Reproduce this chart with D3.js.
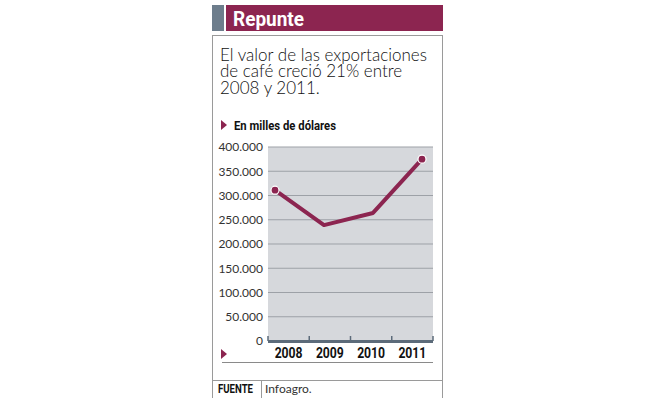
<!DOCTYPE html>
<html>
<head>
<meta charset="utf-8">
<script src="https://cdn.jsdelivr.net/npm/d3@7"></script>
<style>
  html, body { margin: 0; padding: 0; background: #fff; }
  svg { display: block; }
  .narrow { font-family: Roboto, "Liberation Sans", sans-serif; font-weight: bold; }
</style>
</head>
<body>
<svg id="chart" width="653" height="398"></svg>
<script>
const years = ["2008", "2009", "2010", "2011"]
const exportValues = [311000, 239000, 264000, 375000]
const yTicks = [0, 50000, 100000, 150000, 200000, 250000, 300000, 350000, 400000]
const subtitleLines = ["El valor de las exportaciones", "de café creció 21% entre", "2008 y 2011."]

const maroon = "#8c2550"
const light = "Lato, 'Open Sans', sans-serif"

const svg = d3.select("#chart")

// condensed look: squeeze bold text to the width seen in the print
const squeeze = (sel, w) => sel.attr("textLength", w).attr("lengthAdjust", "spacingAndGlyphs")

// header bar
svg.append("rect").attr("x", 212).attr("y", 5).attr("width", 12).attr("height", 26).attr("fill", "#6d7d8c")
svg.append("rect").attr("x", 226).attr("y", 5).attr("width", 217).attr("height", 26).attr("fill", maroon)
svg.append("text").text("Repunte").attr("class", "narrow")
    .attr("x", 233).attr("y", 25.5)
    .attr("fill", "#fff").attr("font-size", 20)
    .call(squeeze, 71)

// frame
svg.append("rect").attr("x", 212.5).attr("y", 35.5).attr("width", 230).attr("height", 370)
    .attr("fill", "none").attr("stroke", "#9a9a9a")

svg.append("g").selectAll("text").data(subtitleLines).join("text")
    .text(d => d)
    .attr("x", 220).attr("y", (d, i) => 60.5 + i * 16.5)
    .attr("fill", "#111").attr("font-family", light).attr("font-weight", 300).attr("font-size", 17)

const triangle = (x, y) => `M${x},${y - 5}L${x + 6},${y}L${x},${y + 5}Z`

svg.append("path").attr("d", triangle(221, 125)).attr("fill", maroon)
svg.append("text").text("En milles de dólares").attr("class", "narrow")
    .attr("x", 234).attr("y", 129.5)
    .attr("fill", "#111").attr("font-size", 13)
    .call(squeeze, 102)

// plot
const plotL = 268, plotR = 433, plotT = 147, plotB = 341

const y = d3.scaleLinear().domain([0, 400000]).range([plotB, plotT])
const band = d3.scaleBand().domain(years).range([plotL, plotR])
const x = d3.scalePoint().domain(years).range([plotL + 7, plotR - 11])

svg.append("rect").attr("x", plotL).attr("y", plotT).attr("width", plotR - plotL).attr("height", plotB - plotT)
    .attr("fill", "#d6d8dc")

svg.append("g").selectAll("line").data(yTicks.filter(d => d > 0)).join("line")
    .attr("x1", plotL).attr("x2", plotR)
    .attr("y1", d => y(d)).attr("y2", d => y(d))
    .attr("stroke", "#9da1a7").attr("stroke-width", 1)

const fmt = d => d === 0 ? "0" : d3.format(",")(d).replace(/,/g, ".")

const yAxis = svg.append("g").attr("transform", `translate(${plotL},0)`)
    .call(d3.axisLeft(y).tickValues(yTicks).tickFormat(fmt).tickSize(0).tickPadding(5))
yAxis.select(".domain").remove()
yAxis.selectAll("text").attr("font-family", light).attr("font-size", 12).attr("fill", "#333")

// baseline with band ticks
svg.append("rect").attr("x", plotL).attr("y", plotB - 1).attr("width", plotR - plotL).attr("height", 3)
    .attr("fill", "#5c6b7a")
const edges = years.map(d => band(d)).concat([plotR])
svg.append("g").selectAll("line").data(edges).join("line")
    .attr("x1", d => d).attr("x2", d => d)
    .attr("y1", plotB - 5).attr("y2", plotB)
    .attr("stroke", "#5c6b7a").attr("stroke-width", 1.5)

svg.append("g").selectAll("text").data(years).join("text")
    .text(d => d).attr("class", "narrow")
    .attr("x", d => band(d) + band.bandwidth() / 2 - 14).attr("y", 357.5)
    .attr("fill", "#111").attr("font-size", 14)
    .call(squeeze, 28)

svg.append("path").attr("d", triangle(221, 354)).attr("fill", maroon)
svg.append("line").attr("x1", 222).attr("x2", plotR).attr("y1", 362.5).attr("y2", 362.5)
    .attr("stroke", "#8a8a8a")

// series
const points = years.map((d, i) => ({ year: d, value: exportValues[i] }))
svg.append("path").datum(points)
    .attr("d", d3.line().x(d => x(d.year)).y(d => y(d.value)))
    .attr("fill", "none").attr("stroke", maroon).attr("stroke-width", 4).attr("stroke-linejoin", "round")

svg.append("g").selectAll("circle").data([points[0], points[points.length - 1]]).join("circle")
    .attr("cx", d => x(d.year)).attr("cy", d => y(d.value)).attr("r", 4)
    .attr("fill", maroon).attr("stroke", "#fff").attr("stroke-width", 1.2)

// source
svg.append("line").attr("x1", 212).attr("x2", 443).attr("y1", 380.5).attr("y2", 380.5).attr("stroke", "#9a9a9a")
svg.append("line").attr("x1", 261.5).attr("x2", 261.5).attr("y1", 380).attr("y2", 398).attr("stroke", "#9a9a9a")
svg.append("text").text("FUENTE").attr("class", "narrow")
    .attr("x", 218).attr("y", 393)
    .attr("fill", "#111").attr("font-size", 12)
    .call(squeeze, 35)
svg.append("text").text("Infoagro.")
    .attr("x", 265).attr("y", 393)
    .attr("fill", "#333").attr("font-family", light).attr("font-size", 12)
</script>
</body>
</html>
